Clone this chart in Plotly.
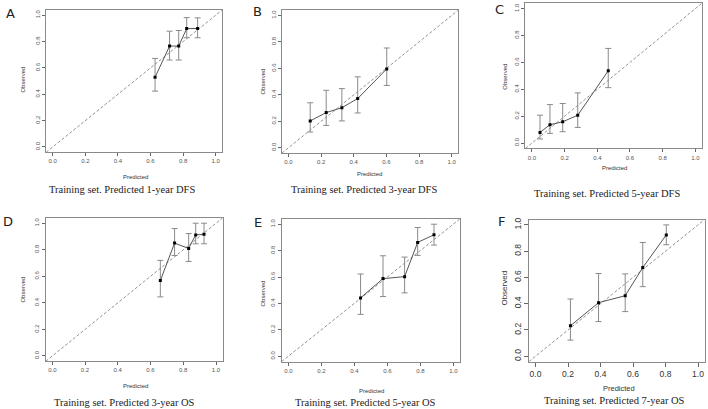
import plotly.graph_objects as go

# ---------------- data ----------------
titles = ["Training set. Predicted 1-year DFS", "Training set. Predicted 3-year DFS",
          "Training set. Predicted 5-year DFS", "Training set. Predicted 3-year OS",
          "Training set. Predicted 5-year OS", "Training set. Predicted 7-year OS"]
letters = ["A", "B", "C", "D", "E", "F"]
tick_vals = [0.0, 0.2, 0.4, 0.6, 0.8, 1.0]
tick_text = ["0.0", "0.2", "0.4", "0.6", "0.8", "1.0"]

A_pred = [0.628, 0.717, 0.773, 0.822, 0.889]
A_obs = [0.529, 0.766, 0.766, 0.899, 0.899]
A_lo = [0.424, 0.660, 0.660, 0.829, 0.829]
A_hi = [0.672, 0.879, 0.884, 0.982, 0.980]

B_pred = [0.133, 0.231, 0.327, 0.424, 0.602]
B_obs = [0.203, 0.266, 0.303, 0.372, 0.596]
B_lo = [0.119, 0.169, 0.203, 0.263, 0.471]
B_hi = [0.340, 0.434, 0.447, 0.536, 0.754]

C_pred = [0.049, 0.110, 0.188, 0.280, 0.467]
C_obs = [0.079, 0.136, 0.158, 0.207, 0.538]
C_lo = [0.030, 0.072, 0.084, 0.116, 0.412]
C_hi = [0.207, 0.286, 0.294, 0.373, 0.704]

D_pred = [0.660, 0.747, 0.833, 0.876, 0.927]
D_obs = [0.568, 0.850, 0.810, 0.912, 0.917]
D_lo = [0.445, 0.757, 0.712, 0.845, 0.845]
D_hi = [0.720, 0.960, 0.922, 1.000, 1.000]

E_pred = [0.438, 0.574, 0.705, 0.784, 0.883]
E_obs = [0.442, 0.588, 0.603, 0.862, 0.920]
E_lo = [0.317, 0.452, 0.480, 0.764, 0.842]
E_hi = [0.623, 0.761, 0.751, 0.975, 1.000]

F_pred = [0.215, 0.388, 0.552, 0.660, 0.805]
F_obs = [0.232, 0.408, 0.461, 0.675, 0.924]
F_lo = [0.123, 0.264, 0.340, 0.530, 0.849]
F_hi = [0.436, 0.630, 0.627, 0.866, 1.000]

series = [(A_pred, A_obs, A_lo, A_hi), (B_pred, B_obs, B_lo, B_hi),
          (C_pred, C_obs, C_lo, C_hi), (D_pred, D_obs, D_lo, D_hi),
          (E_pred, E_obs, E_lo, E_hi), (F_pred, F_obs, F_lo, F_hi)]

# ---------------- layout geometry (pixels) ----------------
W, H = 708, 409
AX_MIN, AX_MAX = -0.04, 1.04
# pixel position of value 0 and 1 on x, and of 0 and 1 on y
geom = [
    (52.7, 215.7, 145.7, 13.3),
    (288.5, 451.7, 146.5, 13.5),
    (532.0, 695.3, 141.7, 6.7),
    (52.3, 216.0, 355.7, 222.3),
    (288.3, 453.3, 356.0, 223.3),
    (535.5, 698.0, 356.0, 224.0),
]
title_pos = [(122, 188), (364, 188), (607, 192), (124, 402), (366, 402.5), (614, 400)]
pred_pos = [(135, 176), (369, 173), (614, 167), (135, 386), (371, 391), (619, 388)]
obs_pos = [(23, 78), (263, 80), (505, 75), (23, 289), (263, 293), (505, 287)]
letter_pos = [(10, 12), (257, 10), (499, 8), (8, 221), (258, 222), (501, 221)]

fig = go.Figure()
layout = dict(width=W, height=H, margin=dict(l=0, r=0, t=0, b=0),
              paper_bgcolor="white", plot_bgcolor="white", showlegend=False)
annotations = []

for i, (pred, obs, lo, hi) in enumerate(series):
    n = i + 1
    xa = "x" if n == 1 else f"x{n}"
    ya = "y" if n == 1 else f"y{n}"
    x0, x1, y0, y1 = geom[i]
    sx = x1 - x0
    sy = y0 - y1
    dom_x = [(x0 + AX_MIN * sx) / W, (x0 + AX_MAX * sx) / W]
    dom_y = [1 - (y0 - AX_MIN * sy) / H, 1 - (y0 - AX_MAX * sy) / H]
    big = (i == 5)
    tfs = 8.5 if big else 6
    tick_col = "#333" if big else "#555"
    axis_common = dict(range=[AX_MIN, AX_MAX], showgrid=False, zeroline=False,
                       showline=True, mirror=True, linecolor="#8a8a8a", linewidth=1,
                       ticks="outside", ticklen=3 if not big else 4, tickcolor="#666", tickwidth=1,
                       tickvals=tick_vals, ticktext=tick_text,
                       tickfont=dict(family="Liberation Sans, Arial", size=tfs, color=tick_col))
    layout[f"xaxis{'' if n == 1 else n}"] = dict(domain=dom_x, anchor=ya, **axis_common)
    layout[f"yaxis{'' if n == 1 else n}"] = dict(domain=dom_y, anchor=xa, tickangle=-90, **axis_common)

    # ideal line
    fig.add_trace(go.Scatter(x=[AX_MIN, AX_MAX], y=[AX_MIN, AX_MAX], mode="lines",
                             line=dict(color="#777", width=0.8, dash="3px,2px"),
                             xaxis=xa, yaxis=ya, hoverinfo="skip"))
    # calibration curve with error bars
    fig.add_trace(go.Scatter(
        x=pred, y=obs, mode="lines+markers",
        line=dict(color="#555", width=1),
        marker=dict(symbol="square", size=3, color="black"),
        error_y=dict(type="data", symmetric=False,
                     array=[h - o for h, o in zip(hi, obs)],
                     arrayminus=[o - l for o, l in zip(obs, lo)],
                     color="#8a8a8a", thickness=1, width=3),
        xaxis=xa, yaxis=ya))

    tx, ty = title_pos[i]
    annotations.append(dict(text=titles[i], x=tx / W, y=1 - ty / H, xref="paper", yref="paper",
                            showarrow=False, xanchor="center", yanchor="middle",
                            font=dict(family="Liberation Serif, Times New Roman", size=10.5, color="#222")))
    px, py = pred_pos[i]
    annotations.append(dict(text="Predicted", x=px / W, y=1 - py / H, xref="paper", yref="paper",
                            showarrow=False, xanchor="center", yanchor="middle",
                            font=dict(family="Liberation Sans, Arial", size=7.5 if big else 6, color="#333")))
    ox, oy = obs_pos[i]
    annotations.append(dict(text="Observed", x=ox / W, y=1 - oy / H, xref="paper", yref="paper",
                            showarrow=False, xanchor="center", yanchor="middle", textangle=-90,
                            font=dict(family="Liberation Sans, Arial", size=8 if big else 6, color="#333")))
    lx, ly = letter_pos[i]
    annotations.append(dict(text=letters[i], x=lx / W, y=1 - ly / H, xref="paper", yref="paper",
                            showarrow=False, xanchor="center", yanchor="middle",
                            font=dict(family="DejaVu Sans, Liberation Sans", size=13, color="#222")))

layout["annotations"] = annotations
fig.update_layout(**layout)
fig.write_html("out.html", config={"displayModeBar": False},
               post_script="document.body.style.margin='0';document.body.style.overflow='hidden';")
